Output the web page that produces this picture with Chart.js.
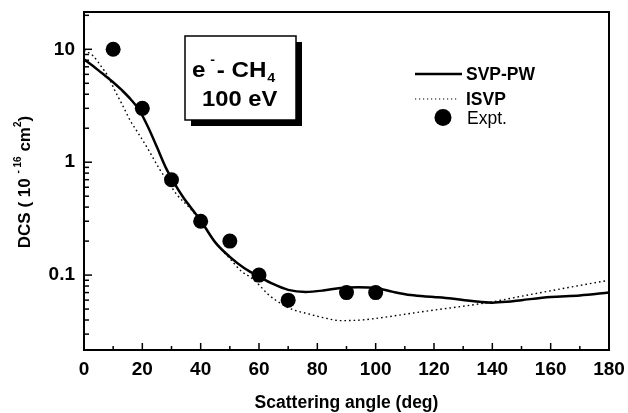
<!DOCTYPE html>
<html><head><meta charset="utf-8">
<script src="https://cdn.jsdelivr.net/npm/chart.js@4/dist/chart.umd.min.js"></script>
<style>html,body{margin:0;padding:0;background:#fff;}canvas{display:block;}</style>
</head><body>
<canvas id="c" width="628" height="413"></canvas>
<script>
// ---- data ----
const svpAngles = [0, 3, 6, 10, 13, 16, 19, 22, 25, 28, 31, 34, 37, 40, 45, 50, 55, 60, 65, 70, 76, 82, 88, 94, 100, 106, 112, 120, 126, 133, 140, 145, 150, 160, 170, 180];
const svpValues = [8.15, 7.15, 6.19, 5.11, 4.34, 3.61, 2.88, 2.04, 1.36, 0.9, 0.65, 0.49, 0.385, 0.305, 0.195, 0.145, 0.115, 0.097, 0.083, 0.074, 0.071, 0.073, 0.077, 0.078, 0.077, 0.071, 0.0665, 0.064, 0.062, 0.059, 0.057, 0.058, 0.060, 0.064, 0.066, 0.070];
const isvpAngles = [0, 3, 6, 8, 11, 13, 16, 19, 22, 26, 29, 32, 36, 40, 45, 50, 54, 57, 60, 63, 68, 72, 76, 82, 88, 95, 103, 110, 120, 130, 140, 150, 160, 170, 180];
const isvpValues = [9.8, 8.8, 7.0, 5.9, 4.1, 3.28, 2.3, 1.74, 1.3, 0.86, 0.66, 0.51, 0.4, 0.3, 0.195, 0.14, 0.108, 0.096, 0.082, 0.068, 0.055, 0.049, 0.046, 0.042, 0.0395, 0.040, 0.0423, 0.045, 0.049, 0.053, 0.058, 0.065, 0.0726, 0.081, 0.090];
const exptAngles = [10, 20, 30, 40, 50, 60, 70, 90, 100];
const exptValues = [10, 3, 0.7, 0.3, 0.2, 0.1, 0.06, 0.07, 0.07];

const xTickValues = [0,10,20,30,40,50,60,70,80,90,100,110,120,130,140,150,160,170,180];
const xTickLabels = ['0','','20','','40','','60','','80','','100','','120','','140','','160','','180'];
const yTickValues = [0.03,0.04,0.05,0.06,0.07,0.08,0.09,0.1,0.2,0.3,0.4,0.5,0.6,0.7,0.8,0.9,1,2,3,4,5,6,7,8,9,10,20];
const yTickLabels = ['','','','','','','','0.1','','','','','','','','','1','','','','','','','','','10',''];
const yMin = 0.0217, yMax = 21.4;

const seriesNames = ['SVP-PW', 'ISVP', 'Expt.'];
const FONT = '"Liberation Sans", Arial, sans-serif';

const toXY = (xs, ys) => xs.map((x, i) => ({x, y: ys[i]}));

const decor = {
  id: 'decor',
  afterDraw(chart) {
    const ctx = chart.ctx, a = chart.chartArea;
    const xs = chart.scales.x, ys = chart.scales.y;
    ctx.save();
    ctx.strokeStyle = '#000';
    ctx.fillStyle = '#000';
    // frame
    ctx.lineWidth = 2;
    ctx.strokeRect(a.left, a.top, a.right - a.left, a.bottom - a.top);
    // inward ticks
    ctx.lineWidth = 1.5;
    xTickValues.forEach((v, i) => {
      const px = xs.getPixelForValue(v);
      const len = xTickLabels[i] ? 7 : 4;
      ctx.beginPath(); ctx.moveTo(px, a.bottom); ctx.lineTo(px, a.bottom - len); ctx.stroke();
    });
    yTickValues.forEach((v, i) => {
      const py = ys.getPixelForValue(v);
      const len = yTickLabels[i] ? 8 : 5;
      ctx.beginPath(); ctx.moveTo(a.left, py); ctx.lineTo(a.left + len, py); ctx.stroke();
    });

    // annotation box with shadow
    const bx = 185, by = 36, bw = 111, bh = 84;
    ctx.fillStyle = '#000';
    ctx.fillRect(bx + 6, by + 6, bw, bh);
    ctx.fillStyle = '#fff';
    ctx.fillRect(bx, by, bw, bh);
    ctx.lineWidth = 1.5;
    ctx.strokeRect(bx, by, bw, bh);
    ctx.fillStyle = '#000';
    ctx.textBaseline = 'alphabetic';
    ctx.textAlign = 'left';
    const base = 77;
    ctx.save();
    ctx.translate(192, 0);
    ctx.scale(1.1, 1);
    ctx.font = 'bold 22px ' + FONT;
    ctx.fillText('e', 0, base);
    ctx.font = 'bold 13px ' + FONT;
    ctx.fillText('-', 16.5, base - 13);
    ctx.font = 'bold 22px ' + FONT;
    ctx.fillText('-', 22.5, base);
    ctx.fillText('CH', 36, base);
    ctx.font = 'bold 13px ' + FONT;
    ctx.fillText('4', 68.5, base + 5);
    ctx.restore();
    ctx.save();
    ctx.translate(202, 0);
    ctx.scale(1.08, 1);
    ctx.font = 'bold 22px ' + FONT;
    ctx.fillText('100 eV', 0, 106);
    ctx.restore();

    // legend
    ctx.lineWidth = 2.5;
    ctx.beginPath(); ctx.moveTo(415, 74); ctx.lineTo(462, 74); ctx.stroke();
    ctx.lineWidth = 1.2;
    ctx.setLineDash([1.2, 2.8]);
    ctx.beginPath(); ctx.moveTo(415, 99); ctx.lineTo(459, 99); ctx.stroke();
    ctx.setLineDash([]);
    ctx.beginPath(); ctx.arc(443, 117.5, 8.5, 0, Math.PI * 2); ctx.fill();
    ctx.textBaseline = 'middle';
    ctx.font = 'bold 17.5px ' + FONT;
    ctx.fillText(seriesNames[0], 466, 75);
    ctx.fillText(seriesNames[1], 466, 100);
    ctx.font = '17.5px ' + FONT;
    ctx.fillText(seriesNames[2], 467, 119);

    // x title
    ctx.textBaseline = 'alphabetic';
    ctx.textAlign = 'center';
    ctx.font = 'bold 17.5px ' + FONT;
    ctx.fillText('Scattering angle (deg)', (a.left + a.right) / 2, 408);

    // y title (rotated, with superscripts)
    ctx.translate(30, 182);
    ctx.rotate(-Math.PI / 2);
    const parts = [
      ['DCS ( 10 ', 'bold 17px ', 0],
      ['- 16', 'bold 10px ', -9],
      [' cm', 'bold 17px ', 0],
      ['2', 'bold 10px ', -9],
      [')', 'bold 17px ', 0]
    ];
    let tw = 0;
    parts.forEach(p => { ctx.font = p[1] + FONT; tw += ctx.measureText(p[0]).width; });
    let tx = -tw / 2;
    ctx.textAlign = 'left';
    parts.forEach(p => { ctx.font = p[1] + FONT; ctx.fillText(p[0], tx, p[2]); tx += ctx.measureText(p[0]).width; });
    ctx.restore();
  }
};

new Chart(document.getElementById('c'), {
  type: 'scatter',
  data: {
    datasets: [
      { label: seriesNames[2], data: toXY(exptAngles, exptValues), showLine: false,
        pointRadius: 7.5, pointBackgroundColor: '#000', pointBorderColor: '#000', pointBorderWidth: 0, order: 0 },
      { label: seriesNames[0], data: toXY(svpAngles, svpValues), showLine: true,
        borderColor: '#000', borderWidth: 2.5, pointRadius: 0, cubicInterpolationMode: 'monotone', order: 1 },
      { label: seriesNames[1], data: toXY(isvpAngles, isvpValues), showLine: true,
        borderColor: '#000', borderWidth: 1.4, borderDash: [1.6, 3], pointRadius: 0, cubicInterpolationMode: 'monotone', order: 2 }
    ]
  },
  options: {
    responsive: false,
    animation: false,
    devicePixelRatio: 1,
    layout: { padding: { top: 12, right: 19, left: 0, bottom: 0 } },
    plugins: { legend: { display: false }, tooltip: { enabled: false } },
    scales: {
      x: {
        type: 'linear', min: 0, max: 180,
        afterBuildTicks: s => { s.ticks = xTickValues.map(v => ({ value: v })); },
        afterFit: s => { s.height = 63; s.paddingLeft = 0; s.paddingRight = 0; },
        grid: { display: false, drawTicks: false },
        border: { display: false },
        ticks: { autoSkip: false, maxRotation: 0, padding: 8, color: '#000',
          font: { family: FONT, size: 19, weight: 'bold' },
          callback: (v) => { const i = xTickValues.indexOf(v); return i >= 0 ? xTickLabels[i] : ''; } }
      },
      y: {
        type: 'logarithmic', min: yMin, max: yMax,
        afterBuildTicks: s => { s.ticks = yTickValues.map(v => ({ value: v })); },
        afterFit: s => { s.width = 84; s.paddingTop = 0; s.paddingBottom = 0; },
        grid: { display: false, drawTicks: false },
        border: { display: false },
        ticks: { autoSkip: false, padding: 9, color: '#000',
          font: { family: FONT, size: 19, weight: 'bold' },
          callback: (v) => { const i = yTickValues.findIndex(t => Math.abs(t - v) < 1e-9); return i >= 0 ? yTickLabels[i] : ''; } }
      }
    }
  },
  plugins: [decor]
});
</script>
</body></html>
